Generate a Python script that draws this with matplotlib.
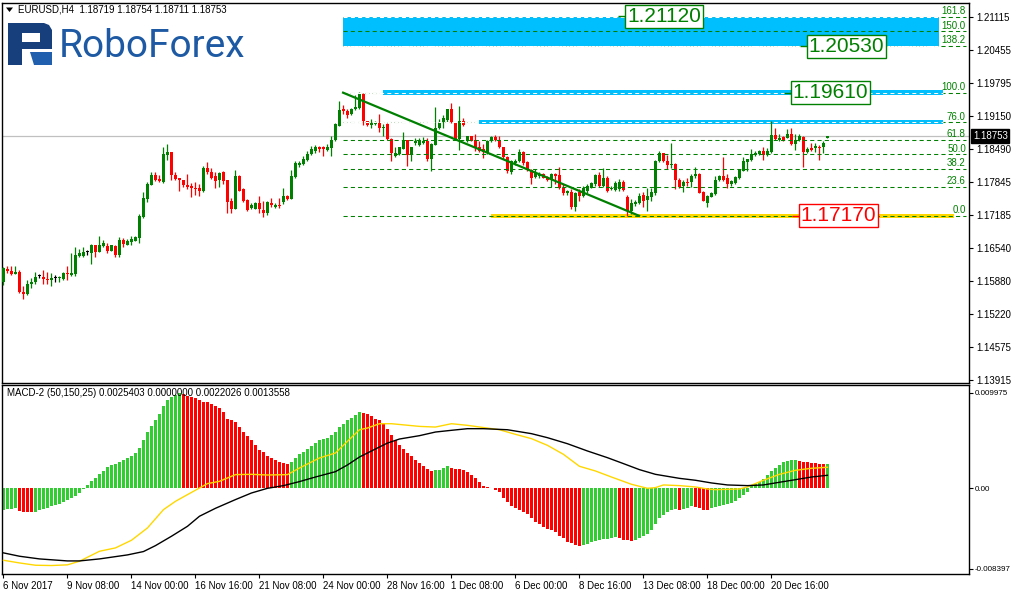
import matplotlib
matplotlib.use("Agg")
import matplotlib.pyplot as plt
import matplotlib.transforms as mtransforms
from matplotlib.patches import Polygon, Rectangle

plt.rcParams['font.family'] = ['Liberation Sans', 'DejaVu Sans']

# EURUSD H4 candles, one entry per bar (6 Nov 2017 .. 22 Dec 2017)
opens = [
    1.1585, 1.1611, 1.1608, 1.1602, 1.1606, 1.1566, 1.1561, 1.1581, 1.1585, 1.1597,
    1.1596, 1.1592, 1.1589, 1.1594, 1.1593, 1.1592, 1.1604, 1.1600, 1.1602, 1.1638,
    1.1638, 1.1646, 1.1644, 1.1660, 1.1646, 1.1658, 1.1658, 1.1648, 1.1658, 1.1640,
    1.1669, 1.1660, 1.1665, 1.1668, 1.1672, 1.1714, 1.1751, 1.1778, 1.1798, 1.1790,
    1.1784, 1.1838, 1.1844, 1.1797, 1.1791, 1.1788, 1.1778, 1.1777, 1.1773, 1.1772,
    1.1767, 1.1811, 1.1804, 1.1795, 1.1787, 1.1804, 1.1787, 1.1746, 1.1731, 1.1795,
    1.1771, 1.1748, 1.1733, 1.1731, 1.1743, 1.1729, 1.1722, 1.1743, 1.1734, 1.1739,
    1.1744, 1.1757, 1.1750, 1.1793, 1.1818, 1.1820, 1.1828, 1.1839, 1.1846, 1.1853,
    1.1853, 1.1847, 1.1851, 1.1867, 1.1895, 1.1928, 1.1925, 1.1919, 1.1928, 1.1931,
    1.1958, 1.1904, 1.1897, 1.1899, 1.1901, 1.1891, 1.1899, 1.1870, 1.1836, 1.1839,
    1.1850, 1.1867, 1.1837, 1.1861, 1.1857, 1.1861, 1.1865, 1.1830, 1.1858, 1.1890,
    1.1903, 1.1907, 1.1928, 1.1903, 1.1869, 1.1905, 1.1865, 1.1875, 1.1868, 1.1853,
    1.1849, 1.1841, 1.1865, 1.1874, 1.1867, 1.1854, 1.1834, 1.1804, 1.1821, 1.1825,
    1.1843, 1.1824, 1.1808, 1.1793, 1.1795, 1.1799, 1.1793, 1.1787, 1.1800, 1.1797,
    1.1773, 1.1762, 1.1764, 1.1735, 1.1764, 1.1756, 1.1766, 1.1773, 1.1779, 1.1797,
    1.1777, 1.1792, 1.1771, 1.1769, 1.1771, 1.1783, 1.1755, 1.1726, 1.1740, 1.1742,
    1.1758, 1.1748, 1.1755, 1.1762, 1.1825, 1.1841, 1.1826, 1.1817, 1.1820, 1.1788,
    1.1776, 1.1783, 1.1783, 1.1795, 1.1800, 1.1764, 1.1742, 1.1755, 1.1760, 1.1787,
    1.1795, 1.1791, 1.1779, 1.1781, 1.1791, 1.1806, 1.1824, 1.1828, 1.1838, 1.1839,
    1.1846, 1.1837, 1.1843, 1.1878, 1.1868, 1.1874, 1.1872, 1.1880, 1.1859, 1.1867,
    1.1874, 1.1843, 1.1851, 1.1851, 1.1854, 1.1853, 1.18719,
]
highs = [
    1.1615, 1.1617, 1.1617, 1.1617, 1.1610, 1.1578, 1.1590, 1.1594, 1.1606, 1.1601,
    1.1610, 1.1606, 1.1603, 1.1599, 1.1597, 1.1605, 1.1617, 1.1644, 1.1656, 1.1651,
    1.1655, 1.1650, 1.1662, 1.1660, 1.1677, 1.1669, 1.1664, 1.1660, 1.1659, 1.1675,
    1.1673, 1.1671, 1.1676, 1.1677, 1.1720, 1.1764, 1.1784, 1.1803, 1.1803, 1.1797,
    1.1853, 1.1860, 1.1844, 1.1804, 1.1792, 1.1788, 1.1800, 1.1782, 1.1784, 1.1779,
    1.1816, 1.1823, 1.1812, 1.1804, 1.1804, 1.1806, 1.1787, 1.1752, 1.1808, 1.1797,
    1.1773, 1.1751, 1.1743, 1.1744, 1.1757, 1.1747, 1.1746, 1.1752, 1.1743, 1.1752,
    1.1772, 1.1758, 1.1808, 1.1826, 1.1826, 1.1836, 1.1845, 1.1855, 1.1857, 1.1855,
    1.1855, 1.1859, 1.1876, 1.1900, 1.1944, 1.1937, 1.1929, 1.1931, 1.1957, 1.1962,
    1.1960, 1.1905, 1.1908, 1.1904, 1.1919, 1.1899, 1.1900, 1.1871, 1.1854, 1.1854,
    1.1884, 1.1868, 1.1854, 1.1872, 1.1871, 1.1874, 1.1872, 1.1861, 1.1932, 1.1909,
    1.1916, 1.1929, 1.1941, 1.1903, 1.1935, 1.1911, 1.1875, 1.1875, 1.1879, 1.1865,
    1.1859, 1.1867, 1.1875, 1.1878, 1.1875, 1.1854, 1.1835, 1.1828, 1.1830, 1.1849,
    1.1845, 1.1825, 1.1810, 1.1809, 1.1803, 1.1801, 1.1796, 1.1801, 1.1801, 1.1814,
    1.1780, 1.1768, 1.1770, 1.1764, 1.1770, 1.1776, 1.1779, 1.1784, 1.1800, 1.1804,
    1.1812, 1.1795, 1.1777, 1.1785, 1.1789, 1.1787, 1.1758, 1.1750, 1.1749, 1.1762,
    1.1764, 1.1773, 1.1773, 1.1828, 1.1845, 1.1841, 1.1837, 1.1862, 1.1821, 1.1791,
    1.1788, 1.1791, 1.1799, 1.1813, 1.1801, 1.1767, 1.1759, 1.1764, 1.1796, 1.1797,
    1.1834, 1.1799, 1.1787, 1.1796, 1.1809, 1.1833, 1.1830, 1.1849, 1.1845, 1.1847,
    1.1853, 1.1851, 1.1904, 1.1890, 1.1880, 1.1876, 1.1888, 1.1890, 1.1879, 1.1879,
    1.1875, 1.1853, 1.1861, 1.1862, 1.1858, 1.1865, 1.18754,
]
lows = [
    1.1579, 1.1603, 1.1600, 1.1601, 1.1564, 1.1553, 1.1560, 1.1573, 1.1582, 1.1593,
    1.1582, 1.1582, 1.1577, 1.1586, 1.1585, 1.1590, 1.1589, 1.1597, 1.1597, 1.1636,
    1.1635, 1.1640, 1.1621, 1.1636, 1.1646, 1.1655, 1.1644, 1.1647, 1.1636, 1.1636,
    1.1655, 1.1659, 1.1660, 1.1667, 1.1663, 1.1712, 1.1745, 1.1778, 1.1785, 1.1784,
    1.1782, 1.1827, 1.1788, 1.1787, 1.1767, 1.1775, 1.1771, 1.1755, 1.1759, 1.1757,
    1.1764, 1.1800, 1.1789, 1.1773, 1.1775, 1.1780, 1.1723, 1.1723, 1.1731, 1.1766,
    1.1744, 1.1727, 1.1730, 1.1730, 1.1723, 1.1714, 1.1719, 1.1734, 1.1732, 1.1732,
    1.1740, 1.1748, 1.1750, 1.1792, 1.1813, 1.1818, 1.1825, 1.1837, 1.1842, 1.1843,
    1.1836, 1.1845, 1.1836, 1.1866, 1.1894, 1.1919, 1.1911, 1.1916, 1.1927, 1.1928,
    1.1896, 1.1895, 1.1890, 1.1896, 1.1883, 1.1876, 1.1868, 1.1826, 1.1834, 1.1838,
    1.1849, 1.1816, 1.1826, 1.1858, 1.1855, 1.1859, 1.1826, 1.1806, 1.1857, 1.1888,
    1.1891, 1.1902, 1.1900, 1.1867, 1.1848, 1.1895, 1.1863, 1.1865, 1.1846, 1.1843,
    1.1832, 1.1839, 1.1863, 1.1866, 1.1851, 1.1830, 1.1802, 1.1799, 1.1818, 1.1824,
    1.1818, 1.1805, 1.1780, 1.1791, 1.1792, 1.1791, 1.1785, 1.1775, 1.1779, 1.1771,
    1.1759, 1.1759, 1.1731, 1.1727, 1.1746, 1.1755, 1.1763, 1.1772, 1.1777, 1.1775,
    1.1775, 1.1764, 1.1768, 1.1767, 1.1767, 1.1767, 1.1717, 1.1721, 1.1736, 1.1740,
    1.1735, 1.1727, 1.1747, 1.1759, 1.1824, 1.1824, 1.1809, 1.1812, 1.1770, 1.1772,
    1.1764, 1.1776, 1.1774, 1.1791, 1.1762, 1.1746, 1.1735, 1.1754, 1.1759, 1.1785,
    1.1785, 1.1773, 1.1776, 1.1779, 1.1789, 1.1805, 1.1805, 1.1825, 1.1836, 1.1837,
    1.1828, 1.1836, 1.1842, 1.1867, 1.1866, 1.1865, 1.1871, 1.1857, 1.1847, 1.1866,
    1.1814, 1.1842, 1.1845, 1.1843, 1.1828, 1.1842, 1.18711,
]
closes = [
    1.1613, 1.1608, 1.1602, 1.1606, 1.1565, 1.1561, 1.1582, 1.1586, 1.1596, 1.1597,
    1.1591, 1.1589, 1.1594, 1.1594, 1.1595, 1.1603, 1.1601, 1.1604, 1.1640, 1.1643,
    1.1646, 1.1646, 1.1660, 1.1646, 1.1659, 1.1663, 1.1648, 1.1659, 1.1640, 1.1669,
    1.1662, 1.1667, 1.1670, 1.1674, 1.1717, 1.1753, 1.1780, 1.1798, 1.1787, 1.1785,
    1.1840, 1.1844, 1.1797, 1.1789, 1.1787, 1.1778, 1.1775, 1.1773, 1.1770, 1.1767,
    1.1812, 1.1803, 1.1792, 1.1785, 1.1802, 1.1785, 1.1744, 1.1731, 1.1795, 1.1767,
    1.1746, 1.1729, 1.1739, 1.1742, 1.1731, 1.1722, 1.1744, 1.1738, 1.1739, 1.1737,
    1.1757, 1.1750, 1.1795, 1.1822, 1.1822, 1.1830, 1.1839, 1.1850, 1.1853, 1.1849,
    1.1849, 1.1853, 1.1868, 1.1898, 1.1927, 1.1925, 1.1917, 1.1929, 1.1932, 1.1958,
    1.1904, 1.1896, 1.1901, 1.1901, 1.1891, 1.1893, 1.1870, 1.1841, 1.1842, 1.1853,
    1.1866, 1.1837, 1.1853, 1.1865, 1.1867, 1.1866, 1.1830, 1.1859, 1.1891, 1.1903,
    1.1911, 1.1928, 1.1902, 1.1869, 1.1905, 1.1896, 1.1875, 1.1866, 1.1851, 1.1845,
    1.1843, 1.1866, 1.1874, 1.1867, 1.1853, 1.1834, 1.1805, 1.1826, 1.1825, 1.1843,
    1.1822, 1.1810, 1.1792, 1.1801, 1.1800, 1.1792, 1.1788, 1.1800, 1.1795, 1.1772,
    1.1762, 1.1766, 1.1735, 1.1763, 1.1756, 1.1772, 1.1776, 1.1781, 1.1797, 1.1777,
    1.1792, 1.1767, 1.1773, 1.1782, 1.1783, 1.1768, 1.1726, 1.1742, 1.1744, 1.1756,
    1.1747, 1.1756, 1.1764, 1.1826, 1.1841, 1.1825, 1.1817, 1.1820, 1.1787, 1.1775,
    1.1784, 1.1781, 1.1796, 1.1800, 1.1763, 1.1747, 1.1756, 1.1762, 1.1788, 1.1795,
    1.1788, 1.1780, 1.1785, 1.1793, 1.1808, 1.1825, 1.1829, 1.1839, 1.1842, 1.1845,
    1.1838, 1.1845, 1.1878, 1.1870, 1.1872, 1.1867, 1.1880, 1.1859, 1.1868, 1.1875,
    1.1843, 1.1850, 1.1847, 1.1855, 1.1851, 1.1862, 1.18753,
]

# MACD-2 (50,150,25) histogram, in units of 0.0001
macd_hist = [
    -22.3, -21.9, -21.6, -20.9, -23.7, -24.7, -25.1, -25.2, -24.4, -23.0,
    -21.6, -20.2, -18.8, -17.4, -16.0, -14.6, -12.5, -10.4, -8.4, -4.9,
    -0.7, 3.5, 7.7, 11.1, 15.3, 17.7, 22.3, 24.4, 25.8, 27.1,
    29.2, 32.0, 34.1, 36.9, 42.5, 50.1, 59.2, 65.4, 71.7, 77.3,
    85.6, 91.9, 95.4, 97.4, 99.7, 98.1, 96.7, 95.4, 94.0, 91.9,
    90.5, 89.8, 88.4, 86.3, 84.2, 79.3, 72.4, 71.0, 69.6, 64.0,
    58.5, 54.3, 50.1, 45.2, 40.4, 37.6, 33.4, 31.3, 29.2, 27.1,
    26.4, 25.4, 27.8, 32.0, 35.5, 38.3, 41.1, 44.5, 47.3, 50.1,
    51.5, 52.9, 55.7, 59.2, 64.0, 66.8, 71.7, 73.8, 76.6, 80.0,
    78.6, 77.3, 75.2, 72.4, 71.0, 66.8, 61.9, 55.7, 50.1, 45.2,
    41.1, 36.9, 33.4, 29.2, 26.4, 23.7, 20.2, 18.1, 18.8, 19.5,
    20.9, 23.0, 21.6, 20.2, 19.8, 18.8, 16.7, 13.9, 11.1, 7.0,
    2.8, 1.4, 0.4, -1.4, -4.2, -9.7, -14.6, -18.1, -20.2, -22.3,
    -24.4, -27.1, -31.3, -34.8, -37.6, -40.4, -42.5, -43.8, -45.9, -49.4,
    -52.2, -55.7, -57.1, -59.2, -60.2, -59.2, -57.8, -56.4, -55.0, -53.6,
    -52.9, -52.5, -51.8, -50.8, -52.2, -53.6, -54.3, -55.0, -53.6, -52.2,
    -50.1, -48.0, -43.2, -36.9, -30.6, -27.8, -25.1, -23.0, -21.6, -22.3,
    -21.6, -20.2, -18.8, -19.5, -20.9, -22.3, -22.6, -20.9, -19.5, -18.1,
    -17.4, -16.7, -15.3, -13.2, -10.4, -7.0, -3.5, 2.1, 4.9, 7.0,
    9.7, 13.9, 18.1, 21.6, 24.4, 27.1, 28.5, 29.2, 29.9, 29.0,
    28.0, 27.2, 26.6, 26.1, 25.6, 25.1, 25.4,
]
# the two MACD lines, read at these bars (units of 0.0001)
signal_bars = [0, 4, 8, 12, 16, 19, 24, 28, 32, 36, 40, 43, 46, 49, 51, 54, 58, 62,
               66, 71, 74, 79, 83, 86, 89, 91, 94, 97, 104, 108, 112, 116, 120, 124,
               128, 132, 136, 140, 144, 148, 152, 157, 161, 163, 165, 169, 173, 176,
               178, 184, 186, 190, 194, 198, 202, 206]
signal_vals = [-75.2, -78.0, -80.4, -80.7, -80.0, -76.2, -65.8, -62.3, -54.3, -41.4,
               -22.3, -13.6, -6.6, 0.3, 4.9, 7.3, 14.3, 14.6, 13.9, 14.3, 21.2, 31.7,
               36.9, 49.1, 61.2, 63.0, 67.5, 67.5, 64.7, 64.0, 67.5, 65.8, 63.5, 61.2,
               56.4, 51.9, 44.9, 35.5, 23.0, 18.1, 11.8, 4.2, 0.0, 0.7, 3.5, 2.8, 1.4,
               -0.7, -1.4, -0.7, 1.4, 8.4, 14.6, 18.8, 20.9, 22.0]
slow_bars = [0, 4, 9, 16, 19, 24, 31, 35, 38, 42, 46, 49, 53, 58, 62, 66, 70, 74, 78,
             83, 86, 89, 93, 96, 99, 104, 108, 112, 116, 120, 126, 132, 136, 141, 146,
             151, 155, 159, 163, 169, 173, 177, 181, 186, 190, 194, 198, 202, 206]
slow_vals = [-67.5, -71.0, -73.8, -75.9, -75.9, -73.8, -69.6, -66.1, -59.9, -50.1,
             -39.7, -29.2, -20.9, -11.8, -4.9, 0.0, 2.8, 7.0, 11.8, 17.4, 24.4, 32.7,
             41.1, 47.3, 51.5, 55.0, 58.8, 60.6, 62.3, 62.3, 61.2, 57.1, 52.9, 46.6,
             39.0, 32.0, 25.8, 19.5, 14.6, 10.4, 8.4, 5.6, 3.5, 2.8, 3.5, 6.3, 9.0,
             11.8, 13.6]

date_labels = ["6 Nov 2017", "9 Nov 08:00", "14 Nov 00:00", "16 Nov 16:00",
               "21 Nov 08:00", "24 Nov 00:00", "28 Nov 16:00", "1 Dec 08:00",
               "6 Dec 00:00", "8 Dec 16:00", "13 Dec 08:00", "18 Dec 00:00",
               "20 Dec 16:00"]
price_ticks = [1.21115, 1.20455, 1.19795, 1.19150, 1.18490, 1.17845, 1.17185,
               1.16540, 1.15880, 1.15220, 1.14575, 1.13915]
fib_pcts = [0.0, 23.6, 38.2, 50.0, 61.8, 76.0, 100.0, 138.2, 150.0, 161.8]
fib_low, fib_high = 1.1717, 1.1961

GREEN = '#008000'
RED = '#ff0000'
HIST_GREEN = '#32cd32'
SKY = '#00bfff'
GOLD = '#ffd700'

W, H = 1011, 595
fig = plt.figure(figsize=(W / 100, H / 100), dpi=100)


def px_box(left, top, right, bottom):
    return [left / W, 1 - bottom / H, (right - left) / W, (bottom - top) / H]


ax = fig.add_axes(px_box(2.3, 3, 969, 382.7))
mx = fig.add_axes(px_box(2.3, 385, 969, 574))
x_lo, x_hi = -0.3, 241.4
bars = list(range(len(closes)))

# candles
cols, bottoms, heights = [], [], []
for o, c in zip(opens, closes):
    cols.append(GREEN if c > o else RED if c < o else 'black')
    bottoms.append(min(o, c))
    heights.append(max(abs(c - o), 0.00018))
ax.vlines(bars, lows, highs, colors=cols, lw=0.9, zorder=3)
ax.bar(bars, heights, bottom=bottoms, width=0.62, color=cols, lw=0, zorder=3)

ax.axhline(closes[-1], color='#c0c0c0', lw=0.9, zorder=1.5)

# fibonacci retracement with the zones drawn on it
rng = fib_high - fib_low
lvl = {p: fib_low + rng * p / 100 for p in fib_pcts}
half = 0.00043
zones = [
    (84.9, 233.9, lvl[138.2], lvl[161.8], SKY),
    (94.9, 234.9, lvl[100.0] - half, lvl[100.0] + half, SKY),
    (118.9, 234.9, lvl[76.0] - half, lvl[76.0] + half, SKY),
    (121.9, 237.6, lvl[0.0] - half, lvl[0.0] + half, GOLD),
]
for x0, x1, y0, y1, c in zones:
    ax.add_patch(Rectangle((x0, y0), x1 - x0, y1 - y0, fc=c, ec='none', zorder=1))

fib_x0, fib_x1 = 84.9, 240.6
dash = (0, (4, 3))
for p in fib_pcts:
    ax.hlines(lvl[p], fib_x0, fib_x1, colors=GREEN, linestyles=[dash], lw=0.75, zorder=4)
    ax.text(fib_x1, lvl[p] + 0.0001, f"{p:.1f}", color=GREEN, fontsize=7,
            ha='right', va='bottom', zorder=6)
for p, x1 in [(161.8, 233.9), (138.2, 233.9), (100.0, 234.9), (76.0, 234.9)]:
    ax.hlines(lvl[p], fib_x0, x1, colors='white', linestyles=[dash], lw=0.75, zorder=4.5)

ax.plot([84.9, 158.9], [fib_high, fib_low], color=GREEN, lw=1.6, zorder=5)

# price labels
for txt, price, xc, c in [("1.21120", 1.2112, 165.25, GREEN),
                          ("1.20530", 1.2053, 210.75, GREEN),
                          ("1.19610", 1.1961, 206.75, GREEN),
                          ("1.17170", 1.1717, 208.75, RED)]:
    ax.hlines(price, xc - 11.6, xc - 9.0, colors=c, lw=1, zorder=6)
    ax.text(xc, price, txt, fontsize=15, color=c, ha='center', va='center', zorder=7,
            bbox=dict(boxstyle='square,pad=0.1', fc='white', ec=c, lw=1))

trans = mtransforms.blended_transform_factory(ax.transAxes, ax.transData)
ax.text(1.004, closes[-1], f"{closes[-1]:.5f}", transform=trans, ha='left', va='center',
        fontsize=7, color='white', clip_on=False, zorder=10,
        bbox=dict(boxstyle='square,pad=0.18', fc='black', ec='black'))

# MACD window
hist_cols = [HIST_GREEN if i == 0 or macd_hist[i] > macd_hist[i - 1] else RED
             for i in range(len(macd_hist))]
mx.bar(bars, [v * 1e-4 for v in macd_hist], width=0.75, color=hist_cols, lw=0, zorder=2)
mx.plot(signal_bars, [v * 1e-4 for v in signal_vals], color=GOLD, lw=1, zorder=3)
mx.plot(slow_bars, [v * 1e-4 for v in slow_vals], color='black', lw=1, zorder=3)

for a in (ax, mx):
    a.set_xlim(x_lo, x_hi)
    for s in a.spines.values():
        s.set_color('black')
        s.set_linewidth(1)
    a.yaxis.tick_right()
    a.tick_params(axis='y', direction='out', length=3, width=0.8, labelsize=7, pad=2)
ax.set_ylim(1.13862, 1.21387)
ax.set_yticks(price_ticks)
ax.set_yticklabels([f"{p:.5f}" for p in price_ticks])
ax.set_xticks([])
mx.set_ylim(-0.008956, 0.010795)
mx.set_yticks([0.0099759, 0.0, -0.0083976])
mx.set_yticklabels(["0.009975", "0.00", "-0.008397"])
mx.tick_params(axis='y', labelsize=5.8, pad=1)
mx.set_xticks([16 * k - 0.2 for k in range(len(date_labels))])
mx.set_xticklabels(date_labels, fontsize=7, ha='left')
mx.tick_params(axis='x', direction='out', length=3, width=0.8, pad=2)

# overlay in pixel space for headers and the logo
ov = fig.add_axes([0, 0, 1, 1])
ov.set_xlim(0, W)
ov.set_ylim(H, 0)
ov.axis('off')
ov.patch.set_alpha(0)
ov.add_patch(Polygon([(6, 7.5), (13, 7.5), (9.5, 12)], closed=True, fc='black', ec='none'))
ov.text(18, 10, "EURUSD,H4  1.18719 1.18754 1.18711 1.18753", fontsize=7, va='center')
ov.text(7, 393, "MACD-2 (50,150,25) 0.0025403 0.0000000 0.0022026 0.0013558",
        fontsize=7, va='center')

NAVY = '#163f7c'
ov.add_patch(Polygon([(8, 23), (44, 23), (49, 25), (52, 30), (52, 49), (22, 49),
                      (22, 65), (8, 65)], closed=True, fc=NAVY, ec='none'))
ov.add_patch(Rectangle((22, 33), 18, 9, fc='white', ec='none'))
ov.add_patch(Polygon([(30, 52), (52, 52), (52, 65), (34, 65)], closed=True,
                     fc='#1f5fae', ec='none'))
ov.text(59, 57, "RoboForex", fontsize=28, color='#1d5aa3', family='Roboto',
        va='baseline', ha='left')

fig.savefig("out.png", dpi=100)
